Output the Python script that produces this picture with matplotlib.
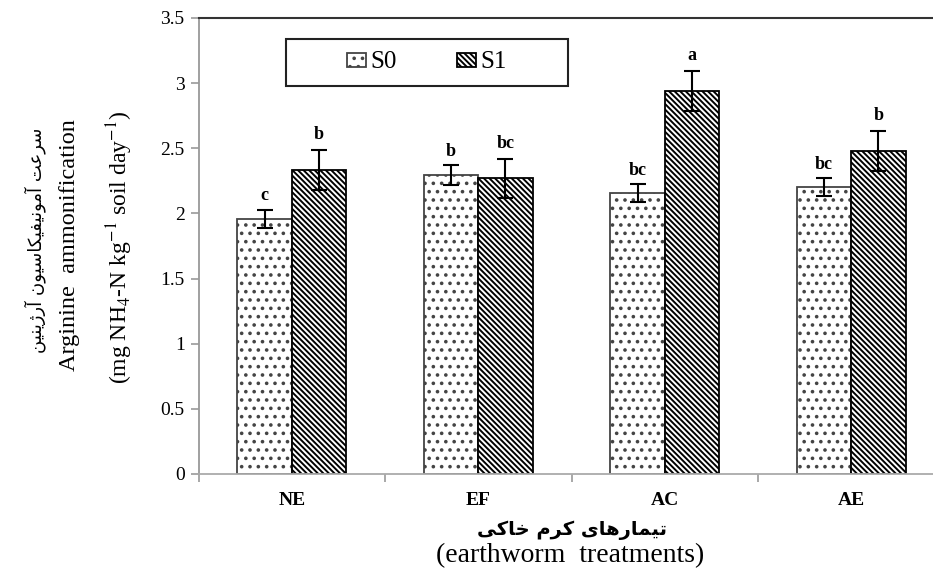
import matplotlib
matplotlib.use("Agg")
import matplotlib.pyplot as plt
import numpy as np
from matplotlib.patches import Rectangle

# ---------------- data ----------------
categories = ["NE", "EF", "AC", "AE"]
series_names = ["S0", "S1"]
s0_values = [1.96, 2.295, 2.155, 2.20]
s1_values = [2.335, 2.27, 2.94, 2.48]
s0_errors = [0.07, 0.075, 0.07, 0.07]
s1_errors = [0.155, 0.15, 0.15, 0.155]
s0_letters = ["c", "b", "bc", "bc"]
s1_letters = ["b", "bc", "a", "b"]
y_ticks = [0, 0.5, 1, 1.5, 2, 2.5, 3, 3.5]
y_tick_labels = ["0", "0.5", "1", "1.5", "2", "2.5", "3", "3.5"]
ylabel_fa = "سرعت آمونیفیکاسیون آرژینین"
ylabel_en = "Arginine  ammonification"
ylabel_units = "(mg NH$_4$-N kg$^{-1}$ soil day$^{-1}$)"
xlabel_fa = "تیمارهای کرم خاکی"
xlabel_en = "(earthworm  treatments)"

# ------------- minimal Persian shaping (visual order) -------------
FORMS = {
    "س": ("\uFEB1", "\uFEB2", "\uFEB3", "\uFEB4"),
    "ر": ("\uFEAD", "\uFEAE", None, None),
    "ع": ("\uFEC9", "\uFECA", "\uFECB", "\uFECC"),
    "ت": ("\uFE95", "\uFE96", "\uFE97", "\uFE98"),
    "آ": ("\uFE81", "\uFE82", None, None),
    "م": ("\uFEE1", "\uFEE2", "\uFEE3", "\uFEE4"),
    "و": ("\uFEED", "\uFEEE", None, None),
    "ن": ("\uFEE5", "\uFEE6", "\uFEE7", "\uFEE8"),
    "ی": ("\uFBFC", "\uFBFD", "\uFBFE", "\uFBFF"),
    "ف": ("\uFED1", "\uFED2", "\uFED3", "\uFED4"),
    "ک": ("\uFB8E", "\uFB8F", "\uFB90", "\uFB91"),
    "ا": ("\uFE8D", "\uFE8E", None, None),
    "ژ": ("\uFB8A", "\uFB8B", None, None),
    "ه": ("\uFEE9", "\uFEEA", "\uFEEB", "\uFEEC"),
    "خ": ("\uFEA5", "\uFEA6", "\uFEA7", "\uFEA8"),
}


def shape_fa(text):
    out = []
    n = len(text)
    for i, ch in enumerate(text):
        if ch not in FORMS:
            out.append(ch)
            continue
        f = FORMS[ch]
        prev = text[i - 1] if i > 0 else None
        nxt = text[i + 1] if i < n - 1 else None
        join_prev = prev in FORMS and FORMS[prev][2] is not None
        join_next = nxt in FORMS and f[2] is not None
        if join_prev and join_next:
            out.append(f[3])
        elif join_prev:
            out.append(f[1])
        elif join_next:
            out.append(f[2])
        else:
            out.append(f[0])
    return "".join(out)[::-1]


# ---------------- style ----------------
plt.rcParams["font.family"] = ["Liberation Serif", "DejaVu Sans"]
plt.rcParams["mathtext.fontset"] = "stix"
plt.rcParams["hatch.linewidth"] = 1.4

W, H = 933, 571
fig = plt.figure(figsize=(W / 100, H / 100), dpi=100)
ax = fig.add_axes([198.5 / W, 1 - 474 / H, 746 / W, 456 / H])

x = np.arange(len(categories))
bw = 0.292
err_kw = dict(ecolor="black", elinewidth=1.5, capsize=5.5, capthick=1.5)
b0 = ax.bar(x - bw / 2, s0_values, bw, yerr=s0_errors, color="white",
            edgecolor="#444444", linewidth=1.3, hatch="..", error_kw=err_kw,
            label=series_names[0], zorder=2)
b1 = ax.bar(x + bw / 2, s1_values, bw, yerr=s1_errors, color="white",
            edgecolor="black", linewidth=1.3, hatch="\\\\\\\\\\\\",
            error_kw=err_kw, label=series_names[1], zorder=2)

for xi, v, e, t in zip(x - bw / 2, s0_values, s0_errors, s0_letters):
    ax.annotate(t, (xi, v + e), xytext=(0, 4), textcoords="offset points",
                ha="center", va="bottom", fontsize=13, fontweight="bold")
for xi, v, e, t in zip(x + bw / 2, s1_values, s1_errors, s1_letters):
    ax.annotate(t, (xi, v + e), xytext=(0, 5), textcoords="offset points",
                ha="center", va="bottom", fontsize=13, fontweight="bold")

ax.set_xlim(-0.5, len(categories) - 0.5)
ax.set_ylim(0, 3.5)
ax.set_yticks(y_ticks)
ax.set_yticklabels(y_tick_labels, fontsize=14)
ax.set_xticks(x)
ax.set_xticklabels(categories, fontsize=14, fontweight="bold")
ax.set_xticks(np.arange(-0.5, len(categories)), minor=True)
ax.tick_params(axis="x", which="major", length=0, pad=13)
ax.tick_params(axis="x", which="minor", length=6, width=1.2, color="#999999")
ax.tick_params(axis="y", length=6, width=1.2, color="#999999", pad=4)

ax.spines["left"].set_color("#999999")
ax.spines["left"].set_linewidth(1.3)
ax.spines["bottom"].set_color("#aaaaaa")
ax.spines["bottom"].set_linewidth(1.3)
ax.spines["top"].set_color("#333333")
ax.spines["top"].set_linewidth(1.5)
ax.spines["right"].set_visible(False)

# y label (three lines)
fig.text(35 / W, 1 - 240 / H, shape_fa(ylabel_fa), rotation=90, ha="center",
         va="center", fontsize=13, family=["DejaVu Sans"])
fig.text(70 / W, 1 - 245 / H, ylabel_en, rotation=90, ha="center",
         va="center", fontsize=17.5)
fig.text(120 / W, 1 - 247 / H, ylabel_units, rotation=90, ha="center",
         va="center", fontsize=17)

# x label (two lines)
fig.text(572 / W, 1 - 530 / H, shape_fa(xlabel_fa), ha="center", va="center",
         fontsize=14, fontweight="bold", family=["DejaVu Sans"])
fig.text(570 / W, 1 - 556 / H, xlabel_en, ha="center", va="center",
         fontsize=20)

# legend
fig.patches.append(Rectangle((286 / W, 1 - 86 / H), 282 / W, 47 / H,
                             transform=fig.transFigure, facecolor="white",
                             edgecolor="#222222", linewidth=1.5, zorder=5))
leg = fig.legend(handles=[b0, b1], loc="center",
                 bbox_to_anchor=(427 / W, 1 - 62.5 / H), ncol=2,
                 frameon=False, fontsize=18, handlelength=0.75,
                 handleheight=0.5, handletextpad=0.2, columnspacing=2.4)
leg.set_zorder(6)

fig.savefig("out.png", dpi=100)
